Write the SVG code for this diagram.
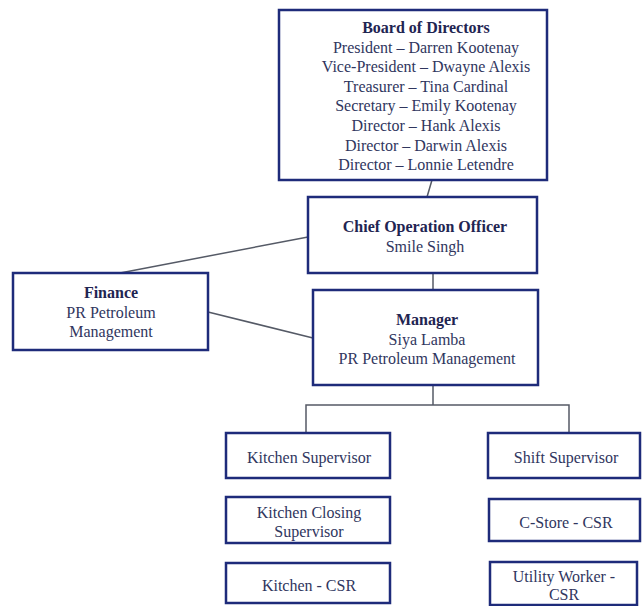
<svg xmlns="http://www.w3.org/2000/svg" width="642" height="606" viewBox="0 0 642 606">
<style>
.box{fill:#ffffff;stroke:#1e2b7a;stroke-width:2.5}
.t{font-family:"Liberation Serif","Times New Roman",serif;font-size:16px;fill:#30365e;text-anchor:middle}
.b{font-weight:bold;fill:#1f2552}
.c{fill:none;stroke:#555a66;stroke-width:1.5}
</style>
<rect width="642" height="606" fill="#ffffff"/>
<g id="connectors">
<line class="c" x1="432" y1="180" x2="427" y2="197"/>
<line class="c" x1="308" y1="237" x2="120" y2="273"/>
<line class="c" x1="208" y1="312" x2="313" y2="338"/>
<line class="c" x1="433" y1="273" x2="433" y2="290"/>
<polyline class="c" points="433,385 433,405"/>
<polyline class="c" points="306,433 306,405 569,405 569,433"/>
</g>
<g id="board">
<rect class="box" x="279" y="10" width="268" height="170"/>
<text class="t b" x="426" y="33">Board of Directors</text>
<text class="t" x="426" y="52.6">President – Darren Kootenay</text>
<text class="t" x="426" y="72.2">Vice-President – Dwayne Alexis</text>
<text class="t" x="426" y="91.8">Treasurer – Tina Cardinal</text>
<text class="t" x="426" y="111.4">Secretary – Emily Kootenay</text>
<text class="t" x="426" y="131">Director – Hank Alexis</text>
<text class="t" x="426" y="150.6">Director – Darwin Alexis</text>
<text class="t" x="426" y="170.2">Director – Lonnie Letendre</text>
</g>
<g id="coo">
<rect class="box" x="308" y="197" width="229" height="76"/>
<text class="t b" x="425" y="232">Chief Operation Officer</text>
<text class="t" x="425" y="252">Smile Singh</text>
</g>
<g id="finance">
<rect class="box" x="13" y="273" width="195" height="77"/>
<text class="t b" x="111" y="298">Finance</text>
<text class="t" x="111" y="318">PR Petroleum</text>
<text class="t" x="111" y="337">Management</text>
</g>
<g id="manager">
<rect class="box" x="313" y="290" width="225" height="95"/>
<text class="t b" x="427" y="325">Manager</text>
<text class="t" x="427" y="345">Siya Lamba</text>
<text class="t" x="427" y="364">PR Petroleum Management</text>
</g>
<g id="kitchen-supervisor">
<rect class="box" x="226" y="433" width="164" height="45"/>
<text class="t" x="309" y="463">Kitchen Supervisor</text>
</g>
<g id="kitchen-closing-supervisor">
<rect class="box" x="226" y="497" width="164" height="46"/>
<text class="t" x="309" y="518">Kitchen Closing</text>
<text class="t" x="309" y="537">Supervisor</text>
</g>
<g id="kitchen-csr">
<rect class="box" x="226" y="563" width="164" height="40"/>
<text class="t" x="309" y="591">Kitchen - CSR</text>
</g>
<g id="shift-supervisor">
<rect class="box" x="488" y="433" width="152" height="45"/>
<text class="t" x="566" y="463">Shift Supervisor</text>
</g>
<g id="cstore-csr">
<rect class="box" x="489" y="499" width="151" height="42"/>
<text class="t" x="566" y="528">C-Store - CSR</text>
</g>
<g id="utility-worker-csr">
<rect class="box" x="490" y="562" width="147" height="43"/>
<text class="t" x="564" y="582">Utility Worker -</text>
<text class="t" x="564" y="600">CSR</text>
</g>
</svg>
